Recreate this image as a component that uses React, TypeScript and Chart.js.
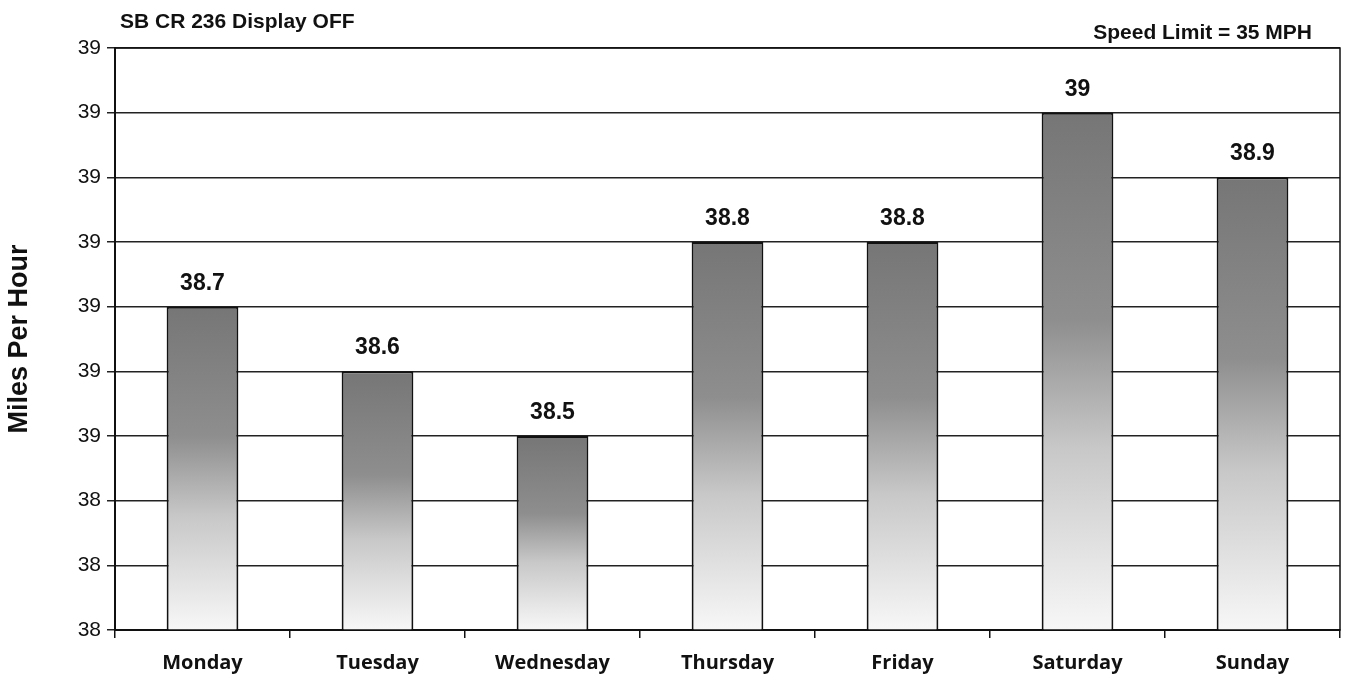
import React, { useEffect, useRef } from "react";
import { Chart, registerables } from "chart.js";

Chart.register(...registerables);

const days = ["Monday", "Tuesday", "Wednesday", "Thursday", "Friday", "Saturday", "Sunday"];
const speeds = [38.7, 38.6, 38.5, 38.8, 38.8, 39.0, 38.9];
const valueLabels = ["38.7", "38.6", "38.5", "38.8", "38.8", "39", "38.9"];
const yMin = 38.2;
const yMax = 39.1;
const yStep = 0.1;
const chartTitle = "SB CR 236 Display OFF";
const noteText = "Speed Limit = 35 MPH";
const yTitle = "Miles Per Hour";

const FONT = "'Liberation Sans', Arial, sans-serif";

export default function App() {
  const ref = useRef<HTMLCanvasElement>(null);

  useEffect(() => {
    if (!ref.current) return;
    const textPlugin = {
      id: "texts",
      afterDraw(chart: any) {
        const c = chart.ctx;
        const area = chart.chartArea;
        c.save();
        c.strokeStyle = "#111";
        c.lineWidth = 1.5;
        c.strokeRect(area.left, area.top, area.right - area.left, area.bottom - area.top);
        c.fillStyle = "#111";
        c.font = `bold 23px ${FONT}`;
        c.textAlign = "center";
        c.textBaseline = "bottom";
        const meta = chart.getDatasetMeta(0);
        meta.data.forEach((bar: any, i: number) => {
          c.fillText(valueLabels[i], bar.x, bar.y - 12);
        });
        c.font = `bold 21px ${FONT}`;
        c.textAlign = "left";
        c.textBaseline = "middle";
        c.fillText(chartTitle, 120, 22);
        c.textAlign = "right";
        c.fillText(noteText, 1312, 33);
        c.restore();
      },
    };

    const chart = new Chart(ref.current, {
      type: "bar",
      data: {
        labels: days,
        datasets: [
          {
            data: speeds,
            backgroundColor: (ctx: any) => {
              const ch = ctx.chart;
              const area = ch.chartArea;
              if (!area || ctx.raw == null) return "#999";
              const top = ch.scales.y.getPixelForValue(ctx.raw);
              const g = ch.ctx.createLinearGradient(0, top, 0, area.bottom);
              g.addColorStop(0, "#767676");
              g.addColorStop(0.4, "#8e8e8e");
              g.addColorStop(0.65, "#c8c8c8");
              g.addColorStop(1, "#f7f7f7");
              return g;
            },
            borderColor: "#111",
            borderWidth: 2,
            borderSkipped: false,
            barPercentage: 0.41,
            categoryPercentage: 1,
          },
        ],
      },
      options: {
        animation: false,
        responsive: false,
        maintainAspectRatio: false,
        layout: { padding: { top: 48, right: 13, left: 0, bottom: 0 } },
        plugins: { legend: { display: false }, tooltip: { enabled: false } },
        scales: {
          x: {
            grid: {
              offset: true,
              drawOnChartArea: false,
              drawTicks: true,
              tickLength: 8,
              color: "#111",
              lineWidth: 1.5,
            },
            border: { color: "#111", width: 2 },
            ticks: {
              color: "#111",
              font: { family: "'Open Sans', 'Noto Sans', sans-serif", size: 20, weight: "bold" },
              padding: 13,
            },
            afterFit: (s: any) => {
              s.height = 63;
            },
          },
          y: {
            min: yMin,
            max: yMax,
            ticks: {
              stepSize: yStep,
              color: "#111",
              font: { family: FONT, size: 21 },
              padding: 6,
              callback: (v: any) => String(Math.round(Number(v))),
            },
            grid: { color: "#222", lineWidth: 1.5, tickLength: 8 },
            border: { color: "#111", width: 2 },
            title: {
              display: true,
              text: yTitle,
              color: "#111",
              font: { family: FONT, size: 27, weight: "bold" },
              padding: { top: 3, bottom: 0 },
            },
            afterFit: (s: any) => {
              s.width = 115;
            },
          },
        },
      },
      plugins: [textPlugin],
    } as any);
    return () => chart.destroy();
  }, []);

  return (
    <div style={{ position: "fixed", left: 0, top: 0, width: 1353, height: 693, background: "#fff" }}>
      <canvas ref={ref} width={1353} height={693} style={{ width: 1353, height: 693 }} />
    </div>
  );
}
